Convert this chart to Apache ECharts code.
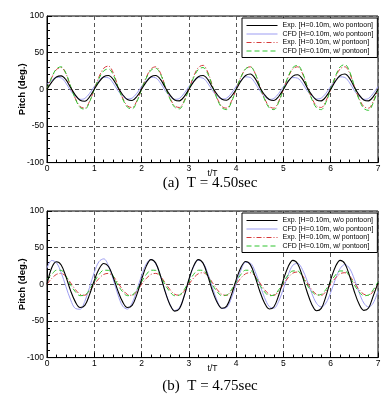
<!DOCTYPE html>
<html><head><meta charset="utf-8">
<script src="https://cdn.jsdelivr.net/npm/echarts@6/dist/echarts.min.js"></script>
<style>html,body{margin:0;padding:0;background:#fff}#c{width:388px;height:401px}</style>
</head><body><div id="c"></div>
<script>
const tSamples = [
0,0.1,0.2,0.3,0.4,0.5,0.6,0.7,0.8,0.9,
1,1.1,1.2,1.3,1.4,1.5,1.6,1.7,1.8,1.9,
2,2.1,2.2,2.3,2.4,2.5,2.6,2.7,2.8,2.9,
3,3.1,3.2,3.3,3.4,3.5,3.6,3.7,3.8,3.9,
4,4.1,4.2,4.3,4.4,4.5,4.6,4.7,4.8,4.9,
5,5.1,5.2,5.3,5.4,5.5,5.6,5.7,5.8,5.9,
6,6.1,6.2,6.3,6.4,6.5,6.6,6.7,6.8,6.9,
7];
const seriesNames = ['Exp. [H=0.10m, w/o pontoon]','CFD [H=0.10m, w/o pontoon]','Exp. [H=0.10m, w/ pontoon]','CFD [H=0.10m, w/ pontoon]'];
const captions = ['(a)  T = 4.50sec','(b)  T = 4.75sec'];

// (a) T = 4.50 sec
const expNoPontA = [
0,9.8,16.7,18.3,13.1,2.4,-7.9,-14.9,-16.3,-10.4,
0,10.1,17.1,18.8,13.5,2.5,-7.4,-14.0,-15.3,-9.8,
0,10.1,17.1,18.8,13.5,2.5,-7.7,-14.5,-15.8,-10.1,
0,10.1,17.1,18.8,13.5,2.5,-7.2,-13.6,-14.9,-9.5,
0,11.1,18.9,20.8,14.9,2.7,-7.4,-14.0,-15.3,-9.8,
0,10.6,18.0,19.8,14.2,2.6,-7.7,-14.5,-15.8,-10.1,
0,11.1,18.9,20.8,14.9,2.7,-7.7,-14.5,-15.8,-10.1,
0];
const cfdNoPontA = [
7,12.1,16.5,15.6,8.5,-1.8,-9.5,-13.7,-12.5,-5.6,
3.7,12.1,16.5,15.6,8.5,-1.8,-9.2,-13.2,-12.0,-5.4,
3.7,12.1,16.5,15.6,8.5,-1.8,-9.5,-13.7,-12.5,-5.6,
3.6,11.7,16.0,15.2,8.3,-1.8,-9.2,-13.2,-12.0,-5.4,
3.9,12.4,17.0,16.1,8.8,-1.8,-9.5,-13.7,-12.5,-5.6,
3.6,11.7,16.0,15.2,8.3,-1.8,-9.2,-13.2,-12.0,-5.4,
3.9,12.4,17.0,16.1,8.8,-1.8,-9.5,-13.7,-12.5,-5.6,
3.9];
const expPontA = [
0,15.9,27.0,29.7,21.3,3.9,-12.5,-23.5,-25.7,-16.4,
0,17.0,28.8,31.7,22.7,4.2,-12.0,-22.6,-24.8,-15.8,
0,16.4,27.9,30.7,22.0,4.0,-12.0,-22.6,-24.8,-15.8,
0,17.5,29.7,32.7,23.4,4.3,-12.5,-23.5,-25.7,-16.4,
0,16.4,27.9,30.7,22.0,4.0,-12.5,-23.5,-25.7,-16.4,
0,16.4,27.9,30.7,22.0,4.0,-12.0,-22.6,-24.8,-15.8,
0,16.4,27.9,30.7,22.0,4.0,-12.5,-23.5,-25.7,-16.4,
0];
const cfdPontA = [
0,16.4,27.9,30.7,22.0,4.0,-13.2,-24.9,-27.2,-17.3,
0,14.8,25.2,27.7,19.9,3.6,-13.0,-24.4,-26.7,-17.0,
0,15.4,26.1,28.7,20.6,3.8,-13.0,-24.4,-26.7,-17.0,
0,15.9,27.0,29.7,21.3,3.9,-13.4,-25.3,-27.7,-17.6,
0,16.4,27.9,30.7,22.0,4.0,-13.4,-25.3,-27.7,-17.6,
0,17.5,29.7,32.7,23.4,4.3,-13.4,-25.3,-27.7,-17.6,
0,18.0,30.6,33.7,24.1,4.4,-13.9,-26.2,-28.7,-18.3,
0];

// (b) T = 4.75 sec
const expNoPontB = [
0,22.6,30.7,26.4,10.5,-9.0,-24.0,-31.7,-28.8,-14.1,
5.4,20.9,28.3,24.3,9.7,-9.0,-24.0,-31.7,-28.8,-14.1,
6.5,24.8,33.7,28.9,11.6,-10.4,-27.8,-36.6,-33.3,-16.3,
6.5,24.8,33.7,28.9,11.6,-9.2,-24.8,-32.7,-29.7,-14.5,
6.0,23.0,31.2,26.8,10.7,-9.5,-25.5,-33.7,-30.6,-15.0,
6.3,24.1,32.7,28.1,11.2,-10.2,-27.4,-36.1,-32.9,-16.1,
6.3,24.1,32.7,28.1,11.2,-10.1,-27.0,-35.6,-32.4,-15.8,
2];
const cfdNoPontB = [
22,32.5,29.4,16,-3,-21.3,-33,-34,-23.2,-4.2,
16.3,31,34.7,25.6,7,-14.2,-29.7,-33.8,-25.5,-8.1,
12.1,28,34,27.8,11.4,-9.4,-27.2,-35.8,-31.7,-16.2,
5,23.7,32.7,29.2,15.1,-4.5,-22.7,-33,-31.7,-18.9,
0.5,19.2,30,29,17.7,0,-18.1,-30.3,-32.5,-23.2,
-5.9,12.9,26.1,28.5,20.5,5.2,-12.3,-25.9,-31,-25.5,
-11,7,21.5,27,21.5,7,-11,-25.5,-31,-25.5,
-9];
const expPontB = [
0,8.0,13.5,14.9,10.7,2.0,-7.2,-13.6,-14.9,-9.5,
0,8.0,13.5,14.9,10.7,2.0,-7.3,-13.8,-15.0,-9.6,
0,8.0,13.5,14.9,10.7,2.0,-7.2,-13.6,-14.9,-9.5,
0,8.5,14.4,15.8,11.4,2.1,-7.3,-13.8,-15.0,-9.6,
0,8.5,14.4,15.8,11.4,2.1,-7.2,-13.6,-14.9,-9.5,
0,9.0,15.3,16.8,12.1,2.2,-7.3,-13.8,-15.0,-9.6,
0,8.5,14.4,15.8,11.4,2.1,-7.2,-13.6,-14.9,-9.5,
0];
const cfdPontB = [
7,13.4,19.2,19.0,11.2,-1.0,-10.2,-15.5,-14.7,-7.4,
3.4,13.4,19.2,19.0,11.2,-1.0,-10.2,-15.5,-14.7,-7.4,
3.4,13.4,19.2,19.0,11.2,-1.0,-10.2,-15.5,-14.7,-7.4,
3.4,13.4,19.2,19.0,11.2,-1.0,-10.2,-15.5,-14.7,-7.4,
3.4,13.4,19.2,19.0,11.2,-1.0,-10.2,-15.5,-14.7,-7.4,
3.2,12.7,18.2,18.1,10.6,-0.9,-9.6,-14.6,-13.8,-6.9,
3.2,12.7,18.2,18.1,10.6,-1.0,-10.2,-15.5,-14.7,-7.4,
3.2];

const panels = [
  {top:16, captionY:183, values:[expNoPontA,cfdNoPontA,expPontA,cfdPontA]},
  {top:211, captionY:386, values:[expNoPontB,cfdNoPontB,expPontB,cfdPontB]}
];
const plotLeft = 47, plotWidth = 331, plotHeight = 146.6;
const styles = [
  {color:'#000000', width:1.1, type:'solid'},
  {color:'#9d9df2', width:1, type:'solid'},
  {color:'#d63a3a', width:1, type:[5,2,1,2]},
  {color:'#2fc42f', width:1, type:[5,3]}
];
const sansFont = 'Liberation Sans, Arial, sans-serif';

const grids = [], xAxes = [], yAxes = [], series = [], legends = [], graphics = [];
panels.forEach((p, gi) => {
  grids.push({left:plotLeft, top:p.top, width:plotWidth, height:plotHeight, show:true,
    borderColor:'#000', borderWidth:1, backgroundColor:'#fff', containLabel:false, outerBoundsMode:'none'});
  xAxes.push({type:'value', gridIndex:gi, min:0, max:7, interval:1,
    name:'t/T', nameLocation:'middle', nameGap:7, nameMoveOverlap:false,
    nameTextStyle:{fontFamily:sansFont, fontSize:8.5, color:'#000'},
    axisLine:{show:true, onZero:false, lineStyle:{color:'#000', width:1}},
    axisTick:{show:true, inside:true, length:5, lineStyle:{color:'#000'}},
    minorTick:{show:true, splitNumber:5, length:3, lineStyle:{color:'#000'}},
    axisLabel:{fontFamily:sansFont, fontSize:8.5, color:'#000', margin:2},
    splitLine:{show:true, lineStyle:{color:'#555', width:1, type:[4,3]}}
  });
  yAxes.push({type:'value', gridIndex:gi, min:-100, max:100, interval:50,
    name:'Pitch (deg.)', nameLocation:'middle', nameGap:20, nameRotate:90, nameMoveOverlap:false,
    nameTextStyle:{fontFamily:sansFont, fontSize:9.5, fontWeight:'bold', color:'#000'},
    axisLine:{show:true, onZero:false, lineStyle:{color:'#000', width:1}},
    axisTick:{show:true, inside:true, length:5, lineStyle:{color:'#000'}},
    minorTick:{show:true, splitNumber:5, length:3, lineStyle:{color:'#000'}},
    axisLabel:{fontFamily:sansFont, fontSize:8.5, color:'#000', margin:3},
    splitLine:{show:true, lineStyle:{color:'#555', width:1, type:[4,3]}}
  });
  p.values.forEach((vals, si) => {
    series.push({type:'line', name:seriesNames[si], xAxisIndex:gi, yAxisIndex:gi,
      data: tSamples.map((t, i) => [t, vals[i]]),
      symbol:'none', smooth:0.35, silent:true, animation:false,
      lineStyle:{color:styles[si].color, width:styles[si].width, type:styles[si].type},
      itemStyle:{color:styles[si].color}, z: 2 + (si===0 ? 1 : 0)
    });
  });
  legends.push({data:seriesNames, orient:'vertical', left:242, top:p.top+2,
    width:133, itemWidth:31, itemHeight:7, itemGap:1.5, padding:[4,4,3,4],
    borderColor:'#000', borderWidth:1, backgroundColor:'#fff', borderRadius:0,
    itemStyle:{opacity:0}, lineStyle:{width:1},
    textStyle:{fontFamily:sansFont, fontSize:7, color:'#000'}, selectedMode:false});
  graphics.push({type:'text', x:210, y:p.captionY,
    style:{text:captions[gi], font:'15px "Liberation Serif", "Times New Roman", serif',
      fill:'#000', align:'center', verticalAlign:'middle'}});
});

const chart = echarts.init(document.getElementById('c'), null, {renderer:'canvas'});
chart.setOption({
  backgroundColor:'#fff', animation:false,
  grid:grids, xAxis:xAxes, yAxis:yAxes, series:series, legend:legends, graphic:graphics
});
</script></body></html>
